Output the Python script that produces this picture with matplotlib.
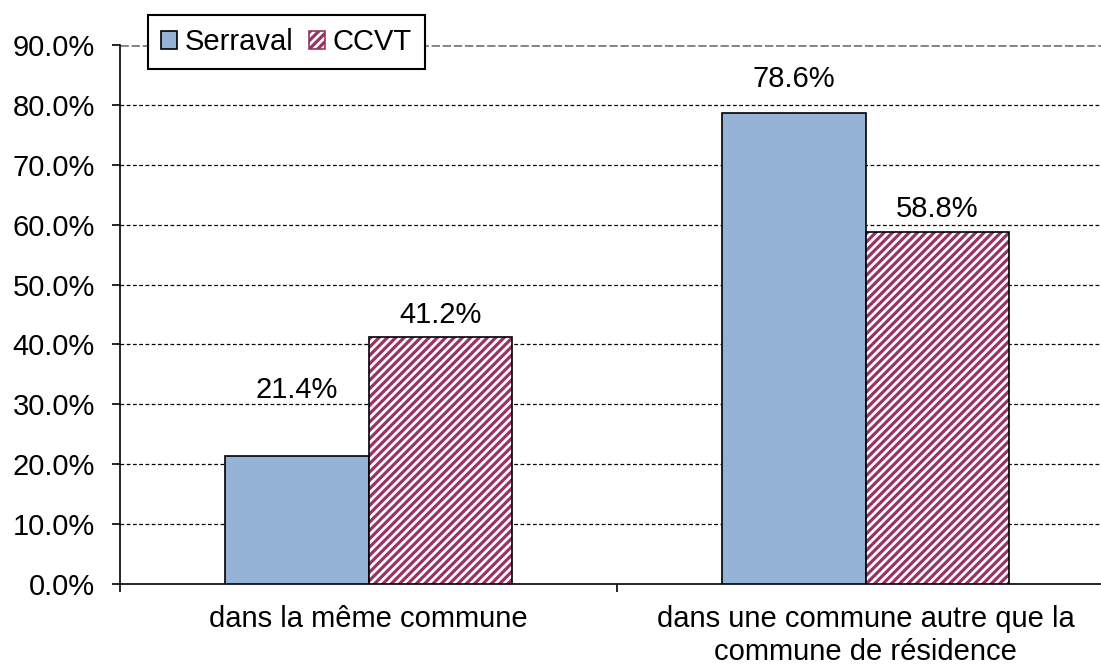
import matplotlib.pyplot as plt
import numpy as np
from matplotlib.patches import Patch

plt.rcParams['font.family'] = ['Liberation Sans', 'DejaVu Sans']
plt.rcParams['hatch.linewidth'] = 2.3

categories = ['dans la même commune', 'dans une commune autre que la\ncommune de résidence']
serraval = [21.4, 78.6]
ccvt = [41.2, 58.8]
series_names = ['Serraval', 'CCVT']

blue = '#95B3D7'
maroon = '#993366'
fs = 21

fig = plt.figure(figsize=(11.01, 6.66), dpi=100)
ax = fig.add_axes([120 / 1101, 1 - 584 / 666, 994 / 1101, 539 / 666])

x = np.arange(len(categories))
w = 0.288
ax.bar(x - w / 2, serraval, w, color=blue, edgecolor='black', linewidth=1.2, zorder=3)
ax.bar(x + w / 2, ccvt, w, color='white', edgecolor=maroon, hatch='////', linewidth=0, zorder=3)
ax.bar(x + w / 2, ccvt, w, color='none', edgecolor='black', linewidth=1.2, zorder=4)

# value labels (Excel-like placement)
offsets_s = [66, 34]
offsets_c = [22, 23]
for i in range(len(categories)):
    ax.annotate(f'{serraval[i]:.1f}%', (x[i] - w / 2, serraval[i]), xytext=(0, offsets_s[i]),
                textcoords='offset pixels', ha='center', va='center', fontsize=fs)
    ax.annotate(f'{ccvt[i]:.1f}%', (x[i] + w / 2, ccvt[i]), xytext=(0, offsets_c[i]),
                textcoords='offset pixels', ha='center', va='center', fontsize=fs)

ax.set_xlim(-0.5, 1.5)
ax.set_ylim(0, 90)
yt = np.arange(0, 91, 10)
ax.set_yticks(yt)
ax.set_yticklabels([f'{v:.1f}%' for v in yt], fontsize=fs)
for v in yt[1:-1]:
    ax.axhline(v, color='black', linestyle=(0, (3, 2)), linewidth=0.9, zorder=1)
ax.axhline(90, color='#808080', linestyle=(0, (3, 1)), linewidth=2, zorder=1)

ax.set_xticks([-0.5, 0.5, 1.5])
ax.set_xticklabels([])
ax.set_xticks(x, minor=True)
ax.set_xticklabels(categories, minor=True, fontsize=fs, linespacing=1.25)
ax.tick_params(axis='x', which='minor', length=0, pad=15)
ax.tick_params(axis='x', which='major', length=6, direction='out', width=1.2)
ax.tick_params(axis='y', length=6, direction='out', width=1.2, pad=12)

for s in ['top', 'right']:
    ax.spines[s].set_visible(False)
for s in ['left', 'bottom']:
    ax.spines[s].set_linewidth(1.2)

handles = [Patch(facecolor=blue, edgecolor='black', linewidth=1.2),
           Patch(facecolor='white', edgecolor=maroon, hatch='////', linewidth=1.2)]
leg = ax.legend(handles, series_names, loc='upper left', bbox_to_anchor=(148 / 1101, 1 - 15 / 666),
                bbox_transform=fig.transFigure, ncol=2, fontsize=fs, frameon=True, fancybox=False,
                edgecolor='black', framealpha=1, handlelength=0.55, handleheight=0.55,
                handletextpad=0.25, columnspacing=0.55, borderpad=0.45, borderaxespad=0)
leg.get_frame().set_linewidth(1.5)
leg.set_zorder(10)

fig.savefig('out.png', dpi=100)
